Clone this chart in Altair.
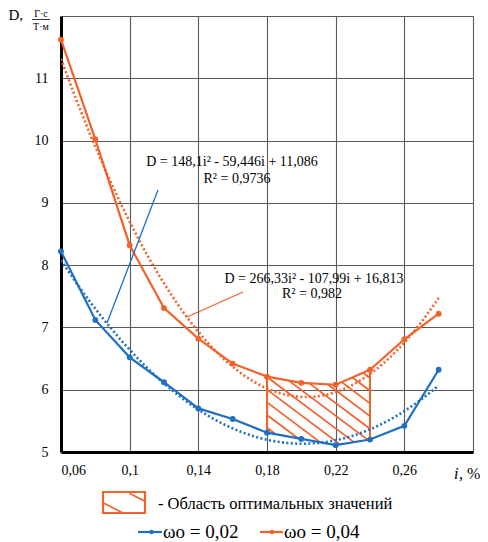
import altair as alt
import pandas as pd
import numpy as np

# ---------------- data ----------------
i_vals = [0.06, 0.08, 0.10, 0.12, 0.14, 0.16, 0.18, 0.20, 0.22, 0.24, 0.26, 0.28]
d_w002 = [8.22, 7.12, 6.52, 6.12, 5.70, 5.53, 5.31, 5.21, 5.11, 5.20, 5.42, 6.32]
d_w004 = [11.62, 10.02, 8.32, 7.31, 6.82, 6.42, 6.21, 6.11, 6.08, 6.32, 6.81, 7.22]
series_names = ["ωo = 0,02", "ωo = 0,04"]
x_ticks = [0.06, 0.1, 0.14, 0.18, 0.22, 0.26, 0.3]
y_ticks = [5, 6, 7, 8, 9, 10, 11, 12]
opt_range = [0.18, 0.24]
eq_blue = ["D = 148,1i² - 59,446i + 11,086", "R² = 0,9736"]
eq_orange = ["D = 266,33i² - 107,99i + 16,813", "R² = 0,982"]
area_label = "- Область оптимальных значений"
y_title = ["D,", "Г·с", "Т·м"]
x_title = ["i", ", %"]

# ---------------- style / layout ----------------
OX, OY = 61, 16          # plot-area origin on the page
W, H = 412, 436
BLUE = "#1f6fc2"
ORANGE = "#f2622b"
GRID = "#5a5a5a"
SERIF = "Liberation Serif"

xs = alt.Scale(domain=[0.06, 0.30], nice=False, zero=False)
ys = alt.Scale(domain=[5, 12], nice=False, zero=False)
xaxis = alt.Axis(values=x_ticks, title=None, grid=True, ticks=False,
                 labelExpr="datum.value > 0.29 ? '' : replace(format(datum.value, '.2~f'), '.', ',')")
yaxis = alt.Axis(values=y_ticks, title=None, grid=True, ticks=False,
                 labelExpr="datum.value >= 12 ? '' : datum.label")


def X(f):
    return alt.X(f, type="quantitative", scale=xs, axis=xaxis)


def Y(f):
    return alt.Y(f, type="quantitative", scale=ys, axis=yaxis)


df = pd.DataFrame({
    "i": i_vals * 2,
    "D": d_w002 + d_w004,
    "s": [series_names[0]] * len(i_vals) + [series_names[1]] * len(i_vals),
})
df_b = df[df.s == series_names[0]]
df_o = df[df.s == series_names[1]]

# hatch lines for the optimal region (between the two curves, i in opt_range)
ia = np.array(i_vals)
lo = np.array(d_w002)
hi = np.array(d_w004)
px_per_i = W / 0.24
px_per_d = H / 7.0
slope = -0.75 * px_per_i / px_per_d      # ~37 degrees on screen
spacing = 12.7 / px_per_d                # vertical spacing in D units
ii = np.linspace(opt_range[0], opt_range[1], 3001)
top = np.interp(ii, ia, hi)
bot = np.interp(ii, ia, lo)
c0 = float(np.interp(opt_range[0], ia, hi)) - 0.005
rows = []
for k in range(-8, 16):
    c = c0 + k * spacing
    ln = c + slope * (ii - opt_range[0])
    m = (ln <= top + 1e-9) & (ln >= bot)
    if m.sum() > 20:
        idx = np.where(m)[0]
        a, b = idx[0], idx[-1]
        rows.append({"i": ii[a], "D": ln[a], "i2": ii[b], "D2": ln[b]})
hatch = pd.DataFrame(rows)
edges = pd.DataFrame({
    "i": opt_range,
    "D": list(np.interp(opt_range, ia, lo)),
    "D2": list(np.interp(opt_range, ia, hi)),
})

hatch_layer = alt.Chart(hatch).mark_rule(color=ORANGE, strokeWidth=1.7).encode(
    x=X("i"), y=Y("D"), x2="i2", y2="D2")
edge_layer = alt.Chart(edges).mark_rule(color=ORANGE, strokeWidth=2).encode(
    x=X("i"), y=Y("D"), y2="D2")


def trend(d, color):
    return alt.Chart(d).transform_regression("i", "D", method="poly", order=2).mark_line(
        color=color, strokeWidth=2.6, strokeDash=[2, 2.4], clip=True).encode(x=X("i"), y=Y("D"))


def series(d, color):
    ln = alt.Chart(d).mark_line(color=color, strokeWidth=2.2).encode(x=X("i"), y=Y("D"))
    pt = alt.Chart(d).mark_point(color=color, filled=True, size=34, opacity=1).encode(x=X("i"), y=Y("D"))
    return ln + pt


one = pd.DataFrame({"k": [0]})


def txt(t, ax, ay, size=13, align="center", color="black", style="normal", baseline="middle"):
    # ax, ay: page position
    return alt.Chart(one).mark_text(text=t, font=SERIF, fontSize=size, align=align, color=color,
                                    fontStyle=style, baseline=baseline).encode(
        x=alt.value(ax - OX), y=alt.value(ay - OY))


def seg(x1, y1, x2, y2, color, w=1.4):
    return alt.Chart(one).mark_rule(color=color, strokeWidth=w).encode(
        x=alt.value(x1 - OX), y=alt.value(y1 - OY), x2=alt.value(x2 - OX), y2=alt.value(y2 - OY))


annot = [
    seg(158, 190, 107, 323, BLUE, 1.3),
    seg(187, 317, 243, 292, ORANGE, 1.3),
    txt(eq_blue[0], 232, 162, size=14),
    txt(eq_blue[1], 237, 179, size=14),
    txt(eq_orange[0], 314, 279, size=14),
    txt(eq_orange[1], 312, 294, size=14),
    # y title
    txt(y_title[0], 8.5, 20, size=15, align="left", baseline="alphabetic"),
    txt(y_title[1], 41, 16.5, size=10, baseline="alphabetic"),
    txt(y_title[2], 41, 30, size=10, baseline="alphabetic"),
    seg(32, 19.5, 50, 19.5, "black", 0.8),
    # x title
    txt(x_title[0], 454, 479, size=16, align="left", style="italic", baseline="alphabetic"),
    txt(x_title[1], 459, 479, size=16, align="left", baseline="alphabetic"),
]

legend = [
    alt.Chart(one).mark_rect(fill="white", stroke=ORANGE, strokeWidth=2.2).encode(
        x=alt.value(103 - OX), x2=alt.value(145 - OX), y=alt.value(492 - OY), y2=alt.value(513 - OY)),
    seg(129.3, 493.3, 144, 500.7, ORANGE, 1.6),
    seg(104, 503.3, 122, 512.5, ORANGE, 1.6),
    txt(area_label, 158, 504, size=16.5, align="left"),
    seg(138, 532, 162, 532, BLUE, 2.2),
    alt.Chart(one).mark_point(color=BLUE, filled=True, size=20, opacity=1).encode(
        x=alt.value(151.5 - OX), y=alt.value(532 - OY)),
    txt(series_names[0], 163, 532, size=19, align="left"),
    seg(260, 532, 283, 532, ORANGE, 2.2),
    alt.Chart(one).mark_point(color=ORANGE, filled=True, size=20, opacity=1).encode(
        x=alt.value(272 - OX), y=alt.value(532 - OY)),
    txt(series_names[1], 284, 532, size=19, align="left"),
]

chart = alt.layer(
    hatch_layer, edge_layer,
    trend(df_b, BLUE), trend(df_o, ORANGE),
    series(df_b, BLUE), series(df_o, ORANGE),
    *annot, *legend,
).properties(
    width=W, height=H,
    autosize=alt.AutoSizeParams(type="none"),
    padding={"left": OX - 8, "top": OY - 8, "right": 7, "bottom": 90},
).configure_view(stroke=None).configure_axis(
    gridColor=GRID, gridWidth=1.1, gridOpacity=1,
    domainColor="black", domainWidth=3,
    labelFont=SERIF, labelFontSize=14, labelColor="black",
).configure_axisX(labelPadding=11).configure_axisY(labelPadding=13)

chart.save("out.html", embed_options={"renderer": "svg", "actions": False})
